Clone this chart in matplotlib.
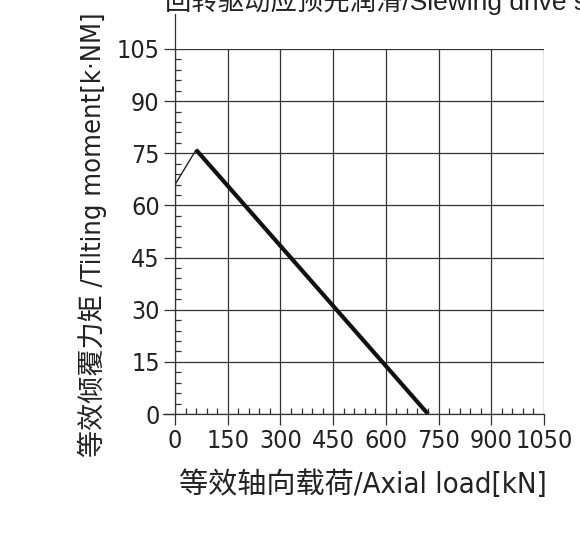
import matplotlib
matplotlib.use('Agg')
import matplotlib.pyplot as plt
import numpy as np
from matplotlib.ticker import MultipleLocator

# curve
axial_load = [0, 60, 720]      # kN
tilting_moment = [66, 76, 0]   # kN*m

x_ticks = [0, 150, 300, 450, 600, 750, 900, 1050]
y_ticks = [0, 15, 30, 45, 60, 75, 90, 105]

title = '回转驱动应预先润滑/Slewing drive should be pre-lubricated'
xlabel = '等效轴向载荷/Axial load[kN]'
ylabel = '等效倾覆力矩 /Tilting moment[k·NM]'

fam = ['DejaVu Sans', 'Noto Sans CJK SC']

fig = plt.figure(figsize=(5.8, 5.4), dpi=100)
ax = fig.add_axes([175/580, 1-414/540, (544-175)/580, (414-49)/540])

ax.plot(axial_load[:2], tilting_moment[:2], color='#222', lw=1.0)
ax.plot(axial_load[1:], tilting_moment[1:], color='#111', lw=3.0, solid_capstyle='butt')

ax.set_xlim(0, 1050)
ax.set_ylim(0, 105)
ax.set_xticks(x_ticks)
ax.set_yticks(y_ticks)
ax.xaxis.set_minor_locator(MultipleLocator(30))
ax.yaxis.set_minor_locator(MultipleLocator(3))
ax.grid(True, which='major', color='#333', lw=0.9)
ax.tick_params(which='major', direction='out', length=8, width=0.9, color='#333', pad=3)
ax.tick_params(which='minor', direction='in', length=4, width=0.9, color='#333')
for lab in ax.get_xticklabels() + ax.get_yticklabels():
    lab.set_fontsize(18)
    lab.set_family(fam)
    lab.set_fontstretch('condensed')
    lab.set_color('#222')
for s in ax.spines.values():
    s.set_color('#333')
    s.set_linewidth(0.9)
ax.spines['top'].set_visible(False)
ax.spines['right'].set_visible(False)

# y axis line runs above the top and the x axis line a bit left of zero
ax.plot([0, 0], [1, 1.095], transform=ax.transAxes, color='#333', lw=0.9, clip_on=False)
ax.plot([-0.033, 0], [0, 0], transform=ax.transAxes, color='#333', lw=0.9, clip_on=False)

ax.set_xlabel(xlabel, fontsize=21, family=fam, fontstretch='condensed', color='#222')
ax.xaxis.set_label_coords(0.51, -0.155)
ax.set_ylabel(ylabel, fontsize=19.5, family=fam, fontstretch='condensed', color='#222')
ax.yaxis.set_label_coords(-0.185, 0.49)
fig.text(165/580, 1 - 1/540, title, fontsize=19, family=['Liberation Sans', 'Noto Sans CJK SC'],
         color='#222', va='center', ha='left')

fig.savefig('out.png', dpi=100)
